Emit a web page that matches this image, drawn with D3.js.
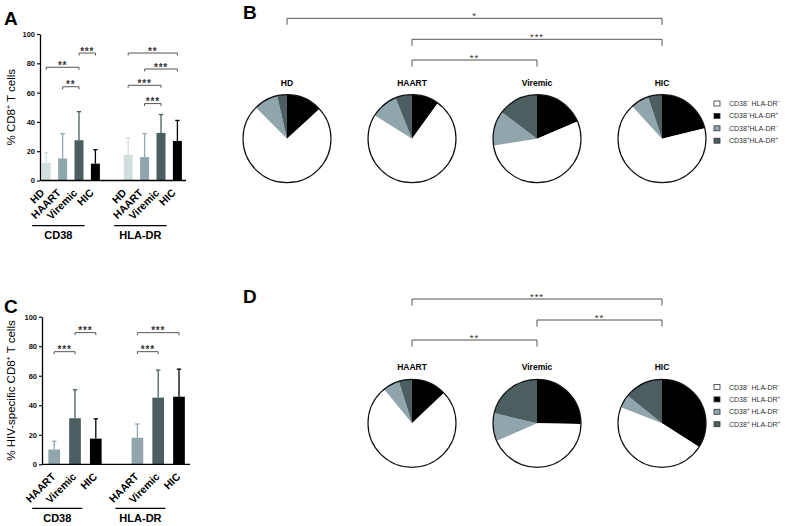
<!DOCTYPE html>
<html><head><meta charset="utf-8">
<script src="https://cdn.jsdelivr.net/npm/d3@7/dist/d3.min.js"></script>
<style>body{margin:0;background:#fff}svg{display:block;font-family:Arial,"Liberation Sans",sans-serif}</style>
</head><body><svg id="c" width="786" height="526"></svg>
<script>
// ---------- data ----------
const groups = ["CD38", "HLA-DR"];
const catsA = ["HD", "HAART", "Viremic", "HIC"];
const meanA_CD38 = [12, 15, 27.5, 11.5];
const upperA_CD38 = [19, 32, 47, 21];
const meanA_HLA = [17.5, 16, 32.5, 27];
const upperA_HLA = [29, 32, 45, 41];
const catsC = ["HAART", "Viremic", "HIC"];
const meanC_CD38 = [10, 31.2, 17.4];
const upperC_CD38 = [15.6, 50.5, 30.8];
const meanC_HLA = [18, 45.2, 45.8];
const upperC_HLA = [27.3, 63.8, 64.5];
const yTicks = [0, 20, 40, 60, 80, 100];
// significance: [group, from, to, y value, label]
const sigA = [
  ["CD38", "HD", "Viremic", 77.3, "**"],
  ["CD38", "HAART", "Viremic", 64, "**"],
  ["CD38", "Viremic", "HIC", 87, "***"],
  ["HLA-DR", "HD", "HIC", 87, "**"],
  ["HLA-DR", "HAART", "HIC", 76.1, "***"],
  ["HLA-DR", "HD", "Viremic", 65, "***"],
  ["HLA-DR", "HAART", "Viremic", 52.5, "***"]
];
const sigC = [
  ["CD38", "HAART", "Viremic", 76.3, "***"],
  ["CD38", "Viremic", "HIC", 89.2, "***"],
  ["HLA-DR", "HAART", "HIC", 89.2, "***"],
  ["HLA-DR", "HAART", "Viremic", 76.3, "***"]
];
// pie fractions, legend order: CD38-HLA-DR-, CD38-HLA-DR+, CD38+HLA-DR-, CD38+HLA-DR+
const pieCatsB = ["HD", "HAART", "Viremic", "HIC"];
const pieB = [
  [74.3, 13.2, 8.9, 3.6],
  [73.9, 10.0, 10.0, 6.1],
  [53.9, 18.6, 12.8, 14.7],
  [67.0, 21.2, 6.7, 5.1]
];
const sigB = [["HD", "HIC", "*"], ["HAART", "HIC", "***"], ["HAART", "Viremic", "**"]];
const pieCatsD = ["HAART", "Viremic", "HIC"];
const pieD = [
  [76.1, 12.9, 6.1, 4.8],
  [43.2, 25.3, 10.3, 21.3],
  [46.9, 34.0, 4.9, 14.2]
];
const sigD = [["HAART", "HIC", "***"], ["Viremic", "HIC", "**"], ["HAART", "Viremic", "**"]];
const legendB = [["CD38", "−", " HLA-DR", "−"], ["CD38", "−", "HLA-DR", "+"], ["CD38", "+", "HLA-DR", "−"], ["CD38", "+", "HLA-DR", "+"]];
const legendD = [["CD38", "−", " HLA-DR", "−"], ["CD38", "−", " HLA-DR", "+"], ["CD38", "+", " HLA-DR", "−"], ["CD38", "+", " HLA-DR", "+"]];

// ---------- styles ----------
const barColor = {HD: "#d2dede", HAART: "#91a5ac", Viremic: "#4c5e60", HIC: "#000000"};
const sliceColor = ["#ffffff", "#000000", "#91a5ac", "#4c5e60"];
const sigColor = "#555";

const svg = d3.select("#c");

function panelLetter(t, x, y) {
  svg.append("text").attr("x", x).attr("y", y).attr("font-size", 19).attr("font-weight", "bold").text(t);
}

function barPanel(cfg) {
  const g = svg.append("g");
  const slots = [];
  cfg.groups.forEach((gr, gi) => {
    if (gi > 0) slots.push("gap" + gi);
    cfg.cats.forEach(c => slots.push(gr + "|" + c));
  });
  const x = d3.scalePoint().domain(slots).range(cfg.xr);
  const y = d3.scaleLinear().domain([0, 100]).range(cfg.yr);
  const data = [];
  cfg.groups.forEach((gr, gi) => cfg.cats.forEach((c, i) => data.push({g: gr, c, m: cfg.means[gi][i], u: cfg.uppers[gi][i]})));
  // error bars
  const eb = g.selectAll(".eb").data(data).join("g");
  eb.append("line").attr("x1", d => x(d.g + "|" + d.c)).attr("x2", d => x(d.g + "|" + d.c))
    .attr("y1", d => y(d.m)).attr("y2", d => y(d.u)).attr("stroke", d => barColor[d.c]).attr("stroke-width", 1.3);
  eb.append("line").attr("x1", d => x(d.g + "|" + d.c) - 2.2).attr("x2", d => x(d.g + "|" + d.c) + 2.2)
    .attr("y1", d => y(d.u)).attr("y2", d => y(d.u)).attr("stroke", d => barColor[d.c]).attr("stroke-width", 1.3);
  g.selectAll(".bar").data(data).join("rect")
    .attr("x", d => x(d.g + "|" + d.c) - cfg.bw / 2).attr("width", cfg.bw)
    .attr("y", d => y(d.m)).attr("height", d => y(0) - y(d.m)).attr("fill", d => barColor[d.c]);
  // axes
  const ax = g.append("g").attr("transform", `translate(${cfg.axisX},0)`)
    .call(d3.axisLeft(y).tickValues(yTicks).tickSize(3).tickSizeOuter(0).tickPadding(2));
  ax.select(".domain").attr("stroke", "#000").attr("stroke-width", 1.3);
  ax.selectAll(".tick line").attr("stroke", "#000").attr("stroke-width", 1.1);
  ax.selectAll(".tick text").attr("font-size", 7.5).attr("font-weight", "bold").attr("font-family", "Arial,'Liberation Sans',sans-serif").attr("fill", "#111");
  g.append("line").attr("x1", cfg.axisX).attr("x2", cfg.xEnd).attr("y1", y(0)).attr("y2", y(0)).attr("stroke", "#000").attr("stroke-width", 1.3);
  // category labels
  g.selectAll(".cl").data(data).join("text")
    .attr("transform", d => `translate(${x(d.g + "|" + d.c) + cfg.lblDx},${y(0) + cfg.lblDy}) rotate(-45)`)
    .attr("text-anchor", "end").attr("font-size", 10.5).attr("font-weight", "bold").text(d => d.c);
  // group underline + labels
  cfg.groups.forEach(gr => {
    const x0 = x(gr + "|" + cfg.cats[0]) - cfg.ulLeft;
    const x1 = x(gr + "|" + cfg.cats[cfg.cats.length - 2]) + cfg.ulRight;
    g.append("line").attr("x1", x0).attr("x2", x1).attr("y1", cfg.ulY).attr("y2", cfg.ulY).attr("stroke", "#000").attr("stroke-width", 1.3);
    g.append("text").attr("x", (x0 + x1) / 2).attr("y", cfg.ulY + 13.5).attr("text-anchor", "middle")
      .attr("font-size", 11).attr("font-weight", "bold").text(gr);
  });
  // significance brackets
  cfg.sig.forEach(([gr, a, b, v, lab]) => {
    const xa = x(gr + "|" + a), xb = x(gr + "|" + b), yy = y(v);
    g.append("path").attr("d", `M${xa},${yy + 2.5}V${yy}H${xb}V${yy + 2.5}`).attr("fill", "none").attr("stroke", sigColor).attr("stroke-width", 1);
    g.append("text").attr("x", (xa + xb) / 2).attr("y", yy + 1.5).attr("text-anchor", "middle")
      .attr("font-size", 10).attr("font-weight", "bold").attr("letter-spacing", 0.8).attr("fill", "#333").text(lab);
  });
  // y label
  const yl = g.append("text").attr("transform", `translate(${cfg.ylX},${(cfg.yr[0] + cfg.yr[1]) / 2}) rotate(-90)`)
    .attr("text-anchor", "middle").attr("font-size", 11.5);
  yl.append("tspan").text(cfg.ylabel[0]);
  yl.append("tspan").attr("font-size", 7).attr("dy", -4).text("+");
  yl.append("tspan").attr("dy", 4).text(cfg.ylabel[1]);
}

function piePanel(cfg) {
  const g = svg.append("g");
  const x = d3.scalePoint().domain(["HD", "HAART", "Viremic", "HIC"]).range([287, 662]);
  const pie = d3.pie().sort(null).value(d => d.v);
  const arc = d3.arc().innerRadius(0).outerRadius(44);
  const drawOrder = [1, 0, 2, 3];
  cfg.cats.forEach((c, i) => {
    const pg = g.append("g").attr("transform", `translate(${x(c)},${cfg.cy})`);
    const dat = drawOrder.map(k => ({k, v: cfg.data[i][k]}));
    pg.selectAll("path").data(pie(dat)).join("path").attr("d", arc).attr("fill", d => sliceColor[d.data.k]);
    pg.append("circle").attr("r", 44).attr("fill", "none").attr("stroke", "#111").attr("stroke-width", 1.2);
    g.append("text").attr("x", x(c)).attr("y", cfg.titleY).attr("text-anchor", "middle")
      .attr("font-size", 8.5).attr("font-weight", "bold").text(c);
  });
  cfg.sig.forEach(([a, b, lab], j) => {
    const xa = x(a), xb = x(b), yy = cfg.sigY[j];
    g.append("path").attr("d", `M${xa},${yy + 6.5}V${yy}H${xb}V${yy + 6.5}`).attr("fill", "none").attr("stroke", sigColor).attr("stroke-width", 1);
    g.append("text").attr("x", (xa + xb) / 2).attr("y", yy + 0.5).attr("text-anchor", "middle")
      .attr("font-size", 9.5).attr("letter-spacing", 1).attr("fill", "#333").text(lab);
  });
  cfg.legend.forEach((parts, k) => {
    const yy = cfg.legY + k * 12.4;
    g.append("rect").attr("x", 714).attr("y", yy - 2.5).attr("width", 6).attr("height", 5)
      .attr("fill", sliceColor[k]).attr("stroke", "#333").attr("stroke-width", 0.8);
    const t = g.append("text").attr("x", 729).attr("y", yy + 2.5).attr("font-size", 7).attr("fill", "#333");
    t.append("tspan").text(parts[0]);
    t.append("tspan").attr("font-size", 4.5).attr("dy", -3).text(parts[1]);
    t.append("tspan").attr("dy", 3).text(parts[2]);
    t.append("tspan").attr("font-size", 4.5).attr("dy", -3).text(parts[3]);
  });
}

panelLetter("A", 4, 25);
panelLetter("C", 4, 313);
panelLetter("B", 243, 19);
panelLetter("D", 243, 303);

barPanel({groups, cats: catsA, means: [meanA_CD38, meanA_HLA], uppers: [upperA_CD38, upperA_HLA],
  xr: [46.2, 177.4], yr: [180.5, 34], bw: 9, axisX: 40, xEnd: 186, lblDx: -1, lblDy: 13,
  ulLeft: 14, ulRight: 5.6, ulY: 225.7, sig: sigA, ylX: 15, ylabel: ["% CD8", " T cells"]});
barPanel({groups, cats: catsC, means: [meanC_CD38, meanC_HLA], uppers: [upperC_CD38, upperC_HLA],
  xr: [54.2, 179], yr: [464.3, 316.7], bw: 11.7, axisX: 42, xEnd: 190, lblDx: 2, lblDy: 13,
  ulLeft: 22, ulRight: 7.3, ulY: 508.3, sig: sigC, ylX: 15, ylabel: ["% HIV-specific CD8", " T cells"]});

piePanel({cats: pieCatsB, data: pieB, cy: 138.7, titleY: 85.5, sig: sigB, sigY: [18.3, 39.3, 60], legend: legendB, legY: 103.5});
piePanel({cats: pieCatsD, data: pieD, cy: 423.3, titleY: 369.5, sig: sigD, sigY: [299, 320, 340], legend: legendD, legY: 387});
</script></body></html>
